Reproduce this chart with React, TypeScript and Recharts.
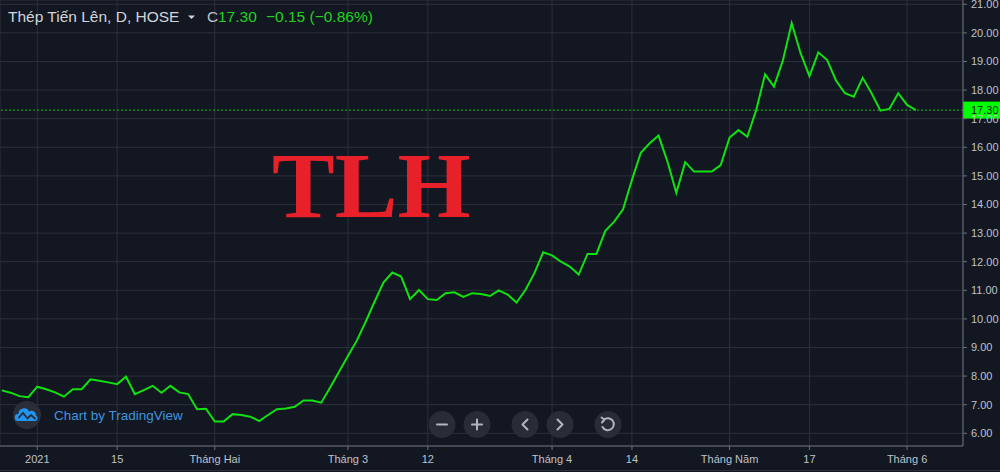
import React from 'react';
import { LineChart, Line, XAxis, YAxis, CartesianGrid, ReferenceLine } from 'recharts';

// Trading days shown on the chart (HOSE, daily)
const tradingDays = [
  '2020-12-28', '2020-12-29', '2020-12-30', '2020-12-31',
  '2021-01-04', '2021-01-05', '2021-01-06', '2021-01-07', '2021-01-08',
  '2021-01-11', '2021-01-12', '2021-01-13', '2021-01-14', '2021-01-15',
  '2021-01-18', '2021-01-19', '2021-01-20', '2021-01-21', '2021-01-22',
  '2021-01-25', '2021-01-26', '2021-01-27', '2021-01-28', '2021-01-29',
  '2021-02-01', '2021-02-02', '2021-02-03', '2021-02-04', '2021-02-05',
  '2021-02-08', '2021-02-09', '2021-02-17', '2021-02-18', '2021-02-19',
  '2021-02-22', '2021-02-23', '2021-02-24', '2021-02-25', '2021-02-26',
  '2021-03-01', '2021-03-02', '2021-03-03', '2021-03-04', '2021-03-05',
  '2021-03-08', '2021-03-09', '2021-03-10', '2021-03-11', '2021-03-12',
  '2021-03-15', '2021-03-16', '2021-03-17', '2021-03-18', '2021-03-19',
  '2021-03-22', '2021-03-23', '2021-03-24', '2021-03-25', '2021-03-26',
  '2021-03-29', '2021-03-30', '2021-03-31', '2021-04-01', '2021-04-02',
  '2021-04-05', '2021-04-06', '2021-04-07', '2021-04-08', '2021-04-09',
  '2021-04-12', '2021-04-13', '2021-04-14', '2021-04-15', '2021-04-16',
  '2021-04-19', '2021-04-20', '2021-04-22', '2021-04-23',
  '2021-04-26', '2021-04-27', '2021-04-28', '2021-04-29',
  '2021-05-04', '2021-05-05', '2021-05-06', '2021-05-07',
  '2021-05-10', '2021-05-11', '2021-05-12', '2021-05-13', '2021-05-14',
  '2021-05-17', '2021-05-18', '2021-05-19', '2021-05-20', '2021-05-21',
  '2021-05-24', '2021-05-25', '2021-05-26', '2021-05-27', '2021-05-28',
  '2021-05-31', '2021-06-01', '2021-06-02',
];

// Closing prices (thousand VND)
const closes = [
  7.50, 7.42, 7.30, 7.26,
  7.63, 7.54, 7.43, 7.28, 7.54,
  7.54, 7.89, 7.84, 7.78, 7.72,
  7.98, 7.37, 7.51, 7.66, 7.42,
  7.66, 7.43, 7.37, 6.84, 6.86,
  6.41, 6.41, 6.67, 6.64, 6.58,
  6.43, 6.64, 6.84, 6.87, 6.93,
  7.15, 7.15, 7.07, 7.60, 8.15,
  8.70, 9.24, 9.90, 10.60, 11.27,
  11.62, 11.48, 10.69, 11.01, 10.69,
  10.66, 10.90, 10.93, 10.77, 10.90,
  10.87, 10.80, 11.00, 10.85, 10.57,
  11.01, 11.59, 12.33, 12.22, 12.00,
  11.83, 11.55, 12.27, 12.27, 13.08,
  13.40, 13.83, 14.86, 15.81, 16.14,
  16.41, 15.50, 14.41, 15.48,
  15.15, 15.15, 15.15, 15.38,
  16.34, 16.60, 16.37, 17.30,
  18.55, 18.12, 19.03, 20.34, 19.29,
  18.49, 19.32, 19.05, 18.33, 17.89,
  17.77, 18.43, 17.89, 17.28, 17.34,
  17.89, 17.48, 17.30,
];

const priceTicks = [6, 7, 8, 9, 10, 11, 12, 13, 14, 15, 16, 17, 18, 19, 20, 21];
const timeTickDays = [
  '2021-01-04', '2021-01-15', '2021-02-01', '2021-03-01', '2021-03-12',
  '2021-04-01', '2021-04-14', '2021-05-04', '2021-05-17', '2021-06-01',
];
const timeTickLabels = [
  '2021', '15', 'Tháng Hai', 'Tháng 3', '12',
  'Tháng 4', '14', 'Tháng Năm', '17', 'Tháng 6',
];
const lastClose = 17.3;

const data = tradingDays.map((d, i) => ({ i, d, close: closes[i] }));
const timeTicks = timeTickDays.map((d) => tradingDays.indexOf(d));
const labelByIndex: Record<number, string> = {};
timeTicks.forEach((t, k) => { labelByIndex[t] = timeTickLabels[k]; });

const BG = '#131722';
const GRID = '#2c303b';
const AXIS = '#6b6f7b';
const TEXT = '#bfc2ca';
const LINE = '#11e011';
const UP = '#1fd31f';
const FONT = '"Liberation Sans", Arial, sans-serif';

const PriceTag = (props: any) => {
  const vb = props.viewBox || {};
  const left = (vb.x ?? 0) + (vb.width ?? 0);
  const y = vb.y ?? 0;
  return (
    <g>
      <rect x={left} y={y - 8.5} width={37} height={17} fill="#00ff00" />
      <text x={left + 8} y={y} dy="0.36em" fontSize={11} fontFamily={FONT} fill="#131722">
        {lastClose.toFixed(2)}
      </text>
    </g>
  );
};

export default function App() {
  return (
    <div style={{ position: 'absolute', left: 0, top: 0, width: 1000, height: 472, background: BG, overflow: 'hidden' }}>
      <LineChart
        width={1000}
        height={472}
        data={data}
        margin={{ top: 0, right: 0, bottom: 0, left: 0 }}
        style={{ fontFamily: FONT }}
      >
        <CartesianGrid stroke={GRID} strokeWidth={1} />
        <XAxis
          dataKey="i"
          type="number"
          domain={[-0.2, 108.3]}
          allowDataOverflow
          ticks={timeTicks}
          interval={0}
          height={26}
          tickFormatter={(v: number) => labelByIndex[v] ?? ''}
          tick={{ fill: TEXT, fontSize: 11, fontFamily: FONT }}
          tickSize={4}
          tickMargin={5}
          stroke={AXIS}
        />
        <YAxis
          orientation="right"
          type="number"
          domain={[5.556, 21.15]}
          allowDataOverflow
          ticks={priceTicks}
          interval={0}
          width={37}
          tickFormatter={(v: number) => v.toFixed(2)}
          tick={{ fill: TEXT, fontSize: 11, fontFamily: FONT, textAnchor: 'start' }}
          tickSize={4}
          tickMargin={4}
          stroke={AXIS}
        />
        <Line
          type="linear"
          dataKey="close"
          stroke={LINE}
          strokeWidth={2}
          dot={false}
          activeDot={false}
          isAnimationActive={false}
        />
        <ReferenceLine
          y={lastClose}
          stroke="#13b813"
          strokeWidth={1}
          strokeDasharray="2 2"
          label={<PriceTag />}
        />
      </LineChart>

      <svg
        width={1000}
        height={472}
        style={{ position: 'absolute', left: 0, top: 0, pointerEvents: 'none' }}
      >
        {/* header */}
        <text x={8} y={21.5} fontSize={15.5} fontFamily={FONT} fill="#d1d4dc">Thép Tiến Lên, D, HOSE</text>
        <path d="M188 15.5 L195 15.5 L191.5 19 Z" fill="#d1d4dc" />
        <text x={207} y={21.5} fontSize={15.5} fontFamily={FONT} fill={TEXT}>C</text>
        <text x={218} y={21.5} fontSize={15.5} fontFamily={FONT} fill={UP}>17.30</text>
        <text x={266} y={21.5} fontSize={15.5} fontFamily={FONT} fill={UP}>−0.15 (−0.86%)</text>

        {/* watermark */}
        <text x={272} y={217} fontSize={94} fontWeight="bold" fontFamily='"Liberation Serif", "Times New Roman", serif' fill="#e8202a">TLH</text>

        {/* TradingView logo */}
        <circle cx={27} cy={415} r={14} fill="#2a2e39" />
        <path d="M18 421 a3.5 3.5 0 0 1 0.5 -7 a5.5 5.5 0 0 1 10.5 -2.5 a4.5 4.5 0 0 1 7 4 a3 3 0 0 1 -0.5 5.5 Z" fill="#2196f3" />
        <path d="M18.5 418 L23 413 L27.5 418.5 L31 415 L35.5 419" fill="none" stroke="#2a2e39" strokeWidth={1.8} />
        <text x={54} y={420} fontSize={13.5} fontFamily={FONT} fill="#3d95df">Chart by TradingView</text>

        {/* navigation buttons */}
        <g fill="#2a2e39" opacity={0.95}>
          <circle cx={442} cy={424.5} r={13.5} />
          <circle cx={477} cy={424.5} r={13.5} />
          <circle cx={525} cy={424.5} r={13.5} />
          <circle cx={560} cy={424.5} r={13.5} />
          <circle cx={608} cy={424.5} r={13.5} />
        </g>
        <g stroke="#b2b5be" strokeWidth={2} fill="none" strokeLinecap="round" strokeLinejoin="round">
          <path d="M437 424.5 L447 424.5" />
          <path d="M472 424.5 L482 424.5 M477 419.5 L477 429.5" />
          <path d="M527.5 419.5 L522.5 424.5 L527.5 429.5" />
          <path d="M557.5 419.5 L562.5 424.5 L557.5 429.5" />
          <path d="M604 419.5 A6 6 0 1 1 602.5 427" />
          <path d="M601.5 417.5 L604.5 419.5 L602 422.5" />
        </g>
        <line x1={0} y1={470.5} x2={1000} y2={470.5} stroke={GRID} strokeWidth={1} />
      </svg>
    </div>
  );
}
